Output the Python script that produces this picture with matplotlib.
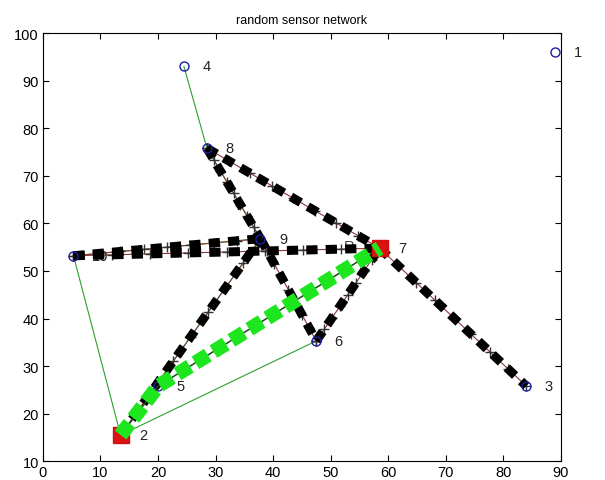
import matplotlib.pyplot as plt

# sensor node coordinates (node id -> x, y)
node_ids = [1, 2, 3, 4, 5, 6, 7, 8, 9, 10]
node_x = [89.0, 13.5, 84.0, 24.5, 20.0, 47.5, 58.5, 28.5, 37.8, 5.3]
node_y = [96.0, 15.5, 25.8, 93.0, 25.8, 35.3, 54.8, 75.8, 56.8, 53.2]

# plain links between neighbouring nodes
links = [(4, 8), (10, 2), (2, 6), (8, 9), (10, 9), (2, 9), (2, 5), (5, 7)]

# hops used by the routing paths
route_hops = [(8, 7), (7, 3), (8, 9), (9, 6), (6, 7), (2, 9), (10, 9), (10, 7)]
best_path = [2, 5, 7]

# source / sink nodes
ends = [2, 7]

# extra text marker near the sink
r_label = ("R", 52.3, 55.2)


def pos(n):
    i = node_ids.index(n)
    return node_x[i], node_y[i]


def main():
    plt.rcParams["font.family"] = ["Liberation Sans", "DejaVu Sans"]
    fig = plt.figure(figsize=(6.05, 4.81), dpi=100)
    ax = fig.add_axes([0.071, 0.039, 0.856, 0.89])

    for a, b in links:
        (x1, y1), (x2, y2) = pos(a), pos(b)
        ax.plot([x1, x2], [y1, y2], color="#2ca02c", lw=0.8, zorder=2)

    for a, b in route_hops:
        (x1, y1), (x2, y2) = pos(a), pos(b)
        ax.plot([x1, x2], [y1, y2], color="#8b3a3a", lw=0.8, zorder=3)
        n = 8
        xs = [x1 + (x2 - x1) * k / n for k in range(n + 1)]
        ys = [y1 + (y2 - y1) * k / n for k in range(n + 1)]
        ax.plot(xs, ys, ls="none", marker="+", ms=7, mec="#333333", mew=1.0, zorder=3)
        ax.plot([x1, x2], [y1, y2], color="black", lw=6.5, dashes=(1.25, 0.9),
                solid_capstyle="butt", dash_capstyle="butt", zorder=4)

    px = [pos(n)[0] for n in best_path]
    py = [pos(n)[1] for n in best_path]
    ax.plot(px, py, color="#1a4d1a", lw=1.0, zorder=5)
    ax.plot(px, py, color="#1ee61e", lw=10.5, dashes=(1.0, 0.45),
            dash_capstyle="butt", solid_joinstyle="round", zorder=6)

    ax.plot(node_x, node_y, ls="none", marker="o", ms=6.5, mfc="none",
            mec="#1f1fa0", mew=1.0, zorder=4.5)
    for n in ends:
        x, y = pos(n)
        ax.plot(x, y, marker="s", ms=11, color="#dd1111", mec="#cc1111", zorder=5)

    for n in node_ids:
        x, y = pos(n)
        ax.text(x + 3.2, y, str(n), fontsize=10.5, va="center", ha="left",
                color="#222222", zorder=3)
    ax.text(r_label[1], r_label[2], r_label[0], fontsize=10.5, va="center",
            color="#444444", zorder=3)

    ax.set_xlim(0, 90)
    ax.set_ylim(10, 100)
    ax.set_xticks(range(0, 91, 10))
    ax.set_yticks(range(10, 101, 10))
    ax.tick_params(direction="in", length=4, labelsize=10.5, top=True, right=True,
                   labeltop=False, labelright=False, pad=3)
    ax.set_title("random sensor network", fontsize=9, pad=7)

    fig.savefig("out.png", dpi=100)


if __name__ == "__main__":
    main()
